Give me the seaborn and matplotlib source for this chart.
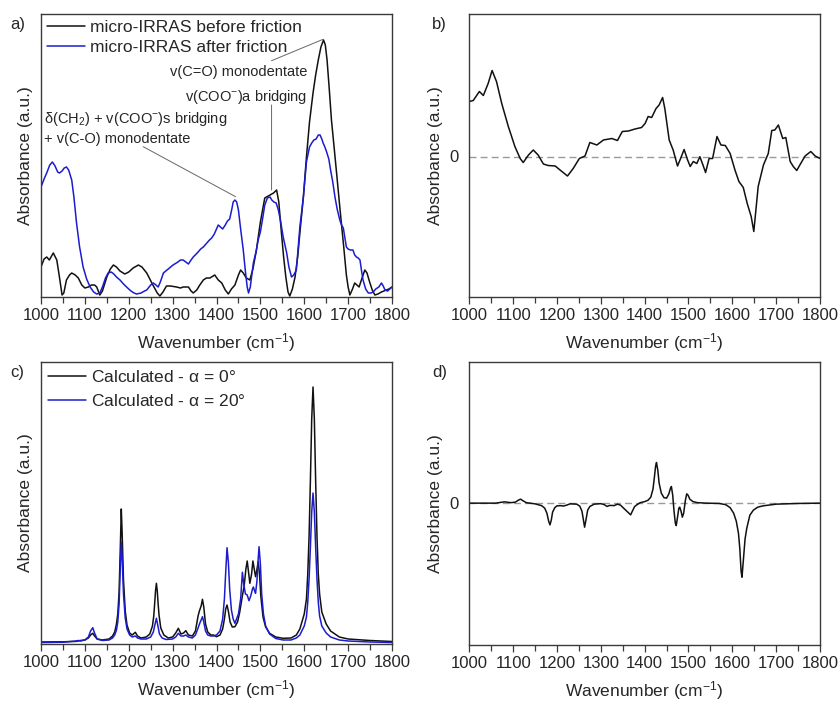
import numpy as np
import pandas as pd
import matplotlib
matplotlib.use("Agg")
import matplotlib.pyplot as plt
import seaborn as sns

# ---------------- data ----------------
# panel a: micro-IRRAS before friction
a_black_wn = [1000, 1007, 1013, 1019, 1028, 1036, 1042, 1048, 1052, 1058, 1065, 1070, 1078, 1085, 1093, 1100,
              1108, 1115, 1122, 1127, 1134, 1140, 1150, 1158, 1165, 1172, 1180, 1191, 1200, 1210, 1222, 1230,
              1241, 1255, 1265, 1271, 1278, 1286, 1295, 1309, 1318, 1324, 1332, 1336, 1342, 1347, 1355, 1362,
              1370, 1377, 1385, 1396, 1404, 1412, 1420, 1427, 1434, 1442, 1450, 1455, 1461, 1468, 1476, 1483,
              1491, 1500, 1510, 1522, 1530, 1537, 1542, 1548, 1553, 1558, 1563, 1567, 1573, 1579, 1585, 1590,
              1598, 1605, 1612, 1620, 1626, 1632, 1638, 1644, 1648, 1652, 1657, 1662, 1668, 1675, 1681, 1690,
              1696, 1700, 1704, 1710, 1715, 1720, 1725, 1731, 1738, 1743, 1749, 1755, 1761, 1768, 1776, 1787,
              1793, 1800]
a_black_ab = [30, 38, 40, 37, 44, 37, 20, 2, 4, 17, 22, 24, 22, 19, 12, 9,
              10, 12, 12, 10, 2, 6, 20, 28, 32, 30, 26, 23, 25, 29, 32, 30,
              24, 12, 4, 1, 5, 11, 11, 10, 9, 10, 10, 10, 6, 4, 7, 12,
              17, 19, 19, 22, 17, 14, 7, 3, 8, 12, 22, 27, 24, 19, 17, 28,
              47, 75, 99, 102, 104, 107, 95, 64, 40, 20, 5, 1, 8, 20, 40, 64,
              100, 140, 175, 204, 222, 237, 250, 257, 252, 237, 208, 177, 150, 118, 90, 50,
              22, 10, 2, 8, 14, 12, 10, 18, 27, 24, 15, 7, 2, 3, 5, 7,
              8, 10]

# panel a: micro-IRRAS after friction
a_blue_wn = [1000, 1007, 1013, 1020, 1026, 1032, 1038, 1042, 1048, 1053, 1058, 1063, 1070, 1075, 1081, 1088,
             1096, 1104, 1112, 1120, 1127, 1134, 1140, 1147, 1153, 1160, 1166, 1172, 1180, 1188, 1195, 1205,
             1212, 1218, 1228, 1236, 1241, 1250, 1256, 1262, 1267, 1272, 1279, 1290, 1301, 1312, 1318, 1324,
             1330, 1336, 1342, 1347, 1356, 1364, 1370, 1378, 1384, 1389, 1395, 1400, 1404, 1409, 1414, 1420,
             1425, 1430, 1435, 1438, 1442, 1446, 1450, 1455, 1461, 1466, 1470, 1473, 1477, 1484, 1490, 1495,
             1500, 1505, 1510, 1516, 1522, 1526, 1531, 1536, 1541, 1546, 1552, 1556, 1560, 1565, 1571, 1576,
             1582, 1590, 1598, 1605, 1612, 1617, 1622, 1627, 1632, 1636, 1640, 1643, 1647, 1651, 1656, 1660,
             1665, 1670, 1675, 1681, 1685, 1689, 1693, 1696, 1700, 1705, 1711, 1715, 1719, 1723, 1727, 1731,
             1734, 1740, 1746, 1752, 1757, 1763, 1770, 1776, 1780, 1784, 1790, 1795, 1800]
a_blue_ab = [110, 118, 124, 132, 135, 131, 125, 124, 126, 129, 130, 127, 117, 100, 74, 50,
             30, 18, 10, 5, 3, 4, 10, 19, 24, 25, 23, 20, 17, 13, 10, 6,
             4, 3, 4, 6, 7, 12, 14, 12, 10, 15, 24, 28, 32, 35, 37, 37,
             35, 33, 37, 40, 44, 48, 50, 54, 57, 59, 63, 68, 72, 70, 68, 72,
             76, 78, 88, 95, 97, 95, 87, 68, 47, 25, 10, 4, 10, 34, 45, 57,
             65, 78, 92, 99, 100, 97, 95, 94, 87, 76, 60, 52, 44, 30, 20, 22,
             27, 70, 100, 135, 150, 154, 157, 158, 162, 162, 158, 154, 150, 145, 138, 127,
             115, 100, 88, 77, 72, 69, 58, 50, 48, 47, 47, 42, 40, 39, 37, 25,
             17, 8, 4, 4, 5, 8, 10, 14, 11, 7, 6, 8, 10]

# panel b: difference spectrum
b_wn = [1000, 1009, 1023, 1032, 1043, 1052, 1062, 1074, 1089, 1104, 1116, 1123, 1135, 1146, 1157, 1169,
        1180, 1196, 1207, 1224, 1237, 1251, 1264, 1275, 1291, 1306, 1325, 1338, 1349, 1363, 1378, 1393,
        1401, 1408, 1416, 1426, 1433, 1441, 1446, 1456, 1465, 1475, 1482, 1490, 1498, 1504, 1511, 1519,
        1526, 1533, 1539, 1547, 1555, 1565, 1574, 1584, 1595, 1606, 1615, 1625, 1634, 1643, 1649, 1659,
        1671, 1682, 1690, 1697, 1705, 1715, 1722, 1732, 1739, 1747, 1754, 1766, 1779, 1789, 1800]
b_ab = [55, 56, 65, 61, 73, 86, 75, 53, 30, 10, -2, -6, 1.5, 6.5, 1.5, -7.5,
        -9, -9.5, -13.5, -19.5, -12, -2, 0.5, 14, 11.5, 16.5, 18, 16, 25, 25.5, 27.5, 29,
        33, 40, 39, 48, 51.5, 59, 48, 16.5, 6.5, -9.5, -2, 7, -3.5, -10, -5, -7,
        -0.2, -8.5, -16, -2, -2, 20, 11.5, 11, 3, -13.5, -25, -31, -47, -60, -75, -30,
        -8.5, 3, 26, 26.5, 31.5, 18, 19, -5, -10, -14, -8.5, 0.5, 5, 0.5, -2]

# panel c: calculated spectra
c_black_wn = [1000, 1050, 1080, 1090, 1100, 1108, 1113, 1118, 1122, 1128, 1140, 1155, 1163, 1168, 1172, 1175,
              1178, 1181, 1183, 1185, 1188, 1192, 1196, 1202, 1208, 1215, 1220, 1228, 1240, 1248, 1254, 1257,
              1259, 1261, 1263, 1265, 1267, 1269, 1273, 1280, 1290, 1300, 1307, 1313, 1319, 1325, 1330, 1336,
              1345, 1352, 1358, 1361, 1365, 1368, 1371, 1375, 1380, 1387, 1393, 1400, 1408, 1414, 1418, 1421,
              1424, 1427, 1431, 1436, 1442, 1448, 1453, 1457, 1460, 1463, 1467, 1470, 1473, 1476, 1480, 1483,
              1486, 1489, 1492, 1495, 1498, 1501, 1506, 1512, 1521, 1535, 1552, 1570, 1582, 1590, 1600, 1605,
              1608, 1611, 1614, 1617, 1620, 1623, 1626, 1629, 1632, 1635, 1640, 1650, 1660, 1680, 1700, 1750,
              1800]
c_black_ab = [2, 2.2, 2.6, 3.5, 4, 6, 9, 10.7, 8, 5, 4, 5, 8, 12, 20, 30,
              52, 100, 135, 110, 64, 33, 19, 11, 9, 11.7, 8, 6, 7, 10, 18, 28,
              40, 53, 60.7, 53, 40, 29, 16, 9, 6, 7, 11, 15.7, 10, 11, 13.3, 9,
              8, 13, 28, 33, 38, 44.7, 37, 20, 12, 9, 9, 7.3, 9, 15, 25, 35,
              39, 33, 22, 17, 17.3, 22, 32, 43, 50.7, 58, 75, 83, 72, 60.7, 70, 83,
              75, 67.3, 74, 82.3, 70, 48, 27, 17, 10.7, 7, 5.7, 6, 9, 15, 30, 45,
              70, 108, 163, 225, 257, 225, 163, 108, 70, 50, 32, 20, 13, 7, 5, 3.5,
              2.5]

c_blue_wn = [1000, 1050, 1080, 1085, 1090, 1100, 1108, 1113, 1118, 1122, 1128, 1140, 1155, 1163, 1168, 1172,
             1175, 1178, 1181, 1183, 1185, 1188, 1192, 1196, 1202, 1208, 1215, 1220, 1228, 1240, 1250, 1256,
             1260, 1263, 1266, 1270, 1276, 1285, 1300, 1307, 1313, 1319, 1325, 1330, 1336, 1345, 1352, 1358,
             1362, 1365, 1368, 1371, 1375, 1380, 1387, 1393, 1400, 1408, 1414, 1418, 1421, 1424, 1427, 1430,
             1434, 1438, 1442, 1450, 1455, 1459, 1462, 1466, 1470, 1474, 1478, 1482, 1484, 1487, 1489, 1492,
             1495, 1497, 1500, 1503, 1507, 1512, 1521, 1535, 1552, 1570, 1582, 1590, 1600, 1605, 1608, 1611,
             1614, 1617, 1620, 1623, 1626, 1629, 1632, 1635, 1640, 1650, 1660, 1680, 1700, 1750, 1800]
c_blue_ab = [1.5, 1.8, 3, 3.5, 3, 4, 7, 13, 16.3, 11, 5, 3.5, 4, 6, 9, 14,
             22, 40, 80, 102, 85, 50, 26, 15, 9, 7, 8, 6, 5, 5, 7, 12,
             20, 25.7, 19, 10, 6, 4.5, 5, 7, 10.7, 8, 8, 9, 7, 6, 9, 16,
             21, 24, 27.3, 22, 13, 9, 8, 8, 9, 13, 25, 45, 72, 96.3, 82, 55,
             34, 25, 20.7, 30, 45, 71.7, 60, 50, 49, 43.3, 48, 55, 57, 53, 50.7, 62,
             85, 97.3, 80, 50, 30, 18, 10, 5.5, 4, 4, 6, 9, 18, 27,
             42, 65, 97, 132, 151, 132, 97, 65, 42, 28, 18, 11, 7, 4, 3, 2, 1.5]

# panel d: calculated difference
d_wn = [1000, 1060, 1080, 1095, 1105, 1112, 1117, 1122, 1130, 1150, 1165, 1172, 1177, 1181, 1184, 1187,
        1190, 1195, 1200, 1208, 1215, 1222, 1230, 1245, 1252, 1257, 1260, 1263, 1266, 1270, 1275, 1285,
        1300, 1308, 1314, 1320, 1326, 1330, 1338, 1345, 1352, 1358, 1364, 1368, 1372, 1377, 1382, 1390,
        1400, 1408, 1414, 1419, 1422, 1425, 1427, 1430, 1433, 1438, 1444, 1450, 1455, 1459, 1461, 1464,
        1467, 1470, 1472, 1475, 1478, 1480, 1483, 1486, 1489, 1493, 1496, 1499, 1503, 1510, 1520, 1540,
        1570, 1585, 1595, 1603, 1609, 1614, 1617, 1620, 1622, 1625, 1629, 1633, 1640, 1648, 1658, 1670,
        1700, 1750, 1800]
d_ab = [0, 0, 1.3, 0.5, 1, 3, 4, 2.5, 0.5, -0.7, -2.5, -5, -10, -18, -21.7, -17,
        -9, -4.5, -2.7, -2.5, -2.9, -2, -0.7, -1, -3, -8, -16, -24, -17, -7, -3.3, -1,
        -0.5, -1.5, -3.3, -2.3, -2.3, -2.5, -1, -2, -5, -7.5, -10, -11.7, -8, -3.5, -1.7, 0.5,
        1.5, 3, 6, 14, 25, 37, 40.6, 33, 20, 10, 5.5, 5, 9, 15, 16.6, 8,
        -8, -20, -22.4, -14, -5, -4, -8, -14, -10, 3, 9.3, 8, 4, 1.6, 0.5, 0,
        -0.3, -1.5, -4.5, -10, -18, -30, -45, -68, -74, -58, -36, -25, -12, -7, -4, -2.7,
        -1, -0.3, 0]

xticks_major = [1000, 1100, 1200, 1300, 1400, 1500, 1600, 1700, 1800]
labels_a = ["micro-IRRAS before friction", "micro-IRRAS after friction"]
labels_c = [r"Calculated - $\alpha$ = 0°", r"Calculated - $\alpha$ = 20°"]

# ---------------- style ----------------
sns.set_theme(style="ticks")
plt.rcParams["font.family"] = ["Liberation Sans", "DejaVu Sans"]
plt.rcParams["mathtext.fontset"] = "custom"
plt.rcParams["mathtext.rm"] = "Liberation Sans"
plt.rcParams["mathtext.it"] = "Liberation Sans:italic"
plt.rcParams["mathtext.default"] = "regular"

BLACK = "#111111"
BLUE = "#1c1ccf"
SPINE = "#3a3a3a"
FS_TICK = 12
FS_LAB = 12.5

fig = plt.figure(figsize=(8.4, 7.01), dpi=100)
W, H = 840, 701


def add_axes(x0, y0, x1, y1):
    return fig.add_axes([x0 / W, 1 - y1 / H, (x1 - x0) / W, (y1 - y0) / H])


ax_a = add_axes(41, 14, 392, 297)
ax_b = add_axes(469.3, 14, 820, 297)
ax_c = add_axes(41, 362, 392, 644)
ax_d = add_axes(469.3, 362, 820, 645)


def style(ax):
    ax.set_xlim(1000, 1800)
    ax.set_xticks(xticks_major)
    ax.set_xticks(np.arange(1050, 1800, 100), minor=True)
    ax.tick_params(axis="x", which="major", direction="out", length=5, width=0.9,
                   color=SPINE, labelsize=FS_TICK, pad=3)
    ax.tick_params(axis="x", which="minor", direction="out", length=4, width=0.9, color=SPINE)
    for s in ax.spines.values():
        s.set_visible(True)
        s.set_color(SPINE)
        s.set_linewidth(1.0)
    ax.set_xlabel("Wavenumber (cm$^{-1}$)", fontsize=FS_LAB, labelpad=6)


# panel a
sns.lineplot(x=a_black_wn, y=a_black_ab, ax=ax_a, color=BLACK, lw=1.1, label=labels_a[0], estimator=None)
sns.lineplot(x=a_blue_wn, y=a_blue_ab, ax=ax_a, color=BLUE, lw=1.1, label=labels_a[1], estimator=None)
ax_a.set_ylim(0, 283)
style(ax_a)
ax_a.set_yticks([])
ax_a.set_ylabel("Absorbance (a.u.)", fontsize=FS_LAB, labelpad=6)
ax_a.legend(loc="upper left", frameon=False, fontsize=FS_LAB, handlelength=2.2, handletextpad=0.3,
            borderaxespad=0.25, borderpad=0.1, labelspacing=0.25)

ann_fs = 10.5
GREY = "#666666"
ax_a.text(1606, 225, "v(C=O) monodentate", ha="right", va="center", fontsize=ann_fs)
ax_a.annotate("", xy=(1643, 257.7), xytext=(1525.5, 236.3),
              arrowprops=dict(arrowstyle="-", color=GREY, lw=0.7, shrinkA=0, shrinkB=0))
ax_a.text(1606, 200, "v(COO$^{-}$)a bridging", ha="right", va="center", fontsize=ann_fs)
ax_a.annotate("", xy=(1525.5, 107), xytext=(1525.5, 192),
              arrowprops=dict(arrowstyle="-", color=GREY, lw=0.7, shrinkA=0, shrinkB=0))
ax_a.text(1007, 178, "$\\delta$(CH$_2$) + v(COO$^{-}$)s bridging", ha="left", va="center", fontsize=ann_fs)
ax_a.text(1007, 158, "+ v(C-O) monodentate", ha="left", va="center", fontsize=ann_fs)
ax_a.annotate("", xy=(1443.5, 100.3), xytext=(1233, 150.3),
              arrowprops=dict(arrowstyle="-", color=GREY, lw=0.7, shrinkA=0, shrinkB=0))

# panel b
sns.lineplot(x=b_wn, y=b_ab, ax=ax_b, color=BLACK, lw=1.1, estimator=None)
ax_b.axhline(0, color="#999999", lw=1.0, ls=(0, (5, 3)), zorder=0)
ax_b.set_ylim(-140.5, 142.5)
style(ax_b)
ax_b.set_yticks([0])
ax_b.tick_params(axis="y", length=0, labelsize=FS_TICK, pad=8)
ax_b.set_ylabel("Absorbance (a.u.)", fontsize=FS_LAB, labelpad=4)

# panel c
sns.lineplot(x=c_black_wn, y=c_black_ab, ax=ax_c, color=BLACK, lw=1.1, label=labels_c[0], estimator=None)
sns.lineplot(x=c_blue_wn, y=c_blue_ab, ax=ax_c, color=BLUE, lw=1.1, label=labels_c[1], estimator=None)
ax_c.set_ylim(0, 282)
style(ax_c)
ax_c.set_yticks([])
ax_c.set_ylabel("Absorbance (a.u.)", fontsize=FS_LAB, labelpad=6)
ax_c.legend(loc="upper left", frameon=False, fontsize=FS_LAB, handlelength=2.2, handletextpad=0.3,
            borderaxespad=0.3, borderpad=0.1, labelspacing=0.45)

# panel d
sns.lineplot(x=d_wn, y=d_ab, ax=ax_d, color=BLACK, lw=1.1, estimator=None)
ax_d.axhline(0, color="#999999", lw=1.0, ls=(0, (5, 3)), zorder=0)
ax_d.set_ylim(-141.7, 141)
style(ax_d)
ax_d.set_yticks([0])
ax_d.tick_params(axis="y", length=0, labelsize=FS_TICK, pad=8)
ax_d.set_ylabel("Absorbance (a.u.)", fontsize=FS_LAB, labelpad=4)

# panel letters
for lab, (px, py) in zip(["a)", "b)", "c)", "d)"], [(10, 24), (432, 24), (10, 372), (432, 372)]):
    fig.text(px / W, 1 - py / H, lab, fontsize=12, ha="left", va="center")

fig.savefig("out.png", dpi=100)
